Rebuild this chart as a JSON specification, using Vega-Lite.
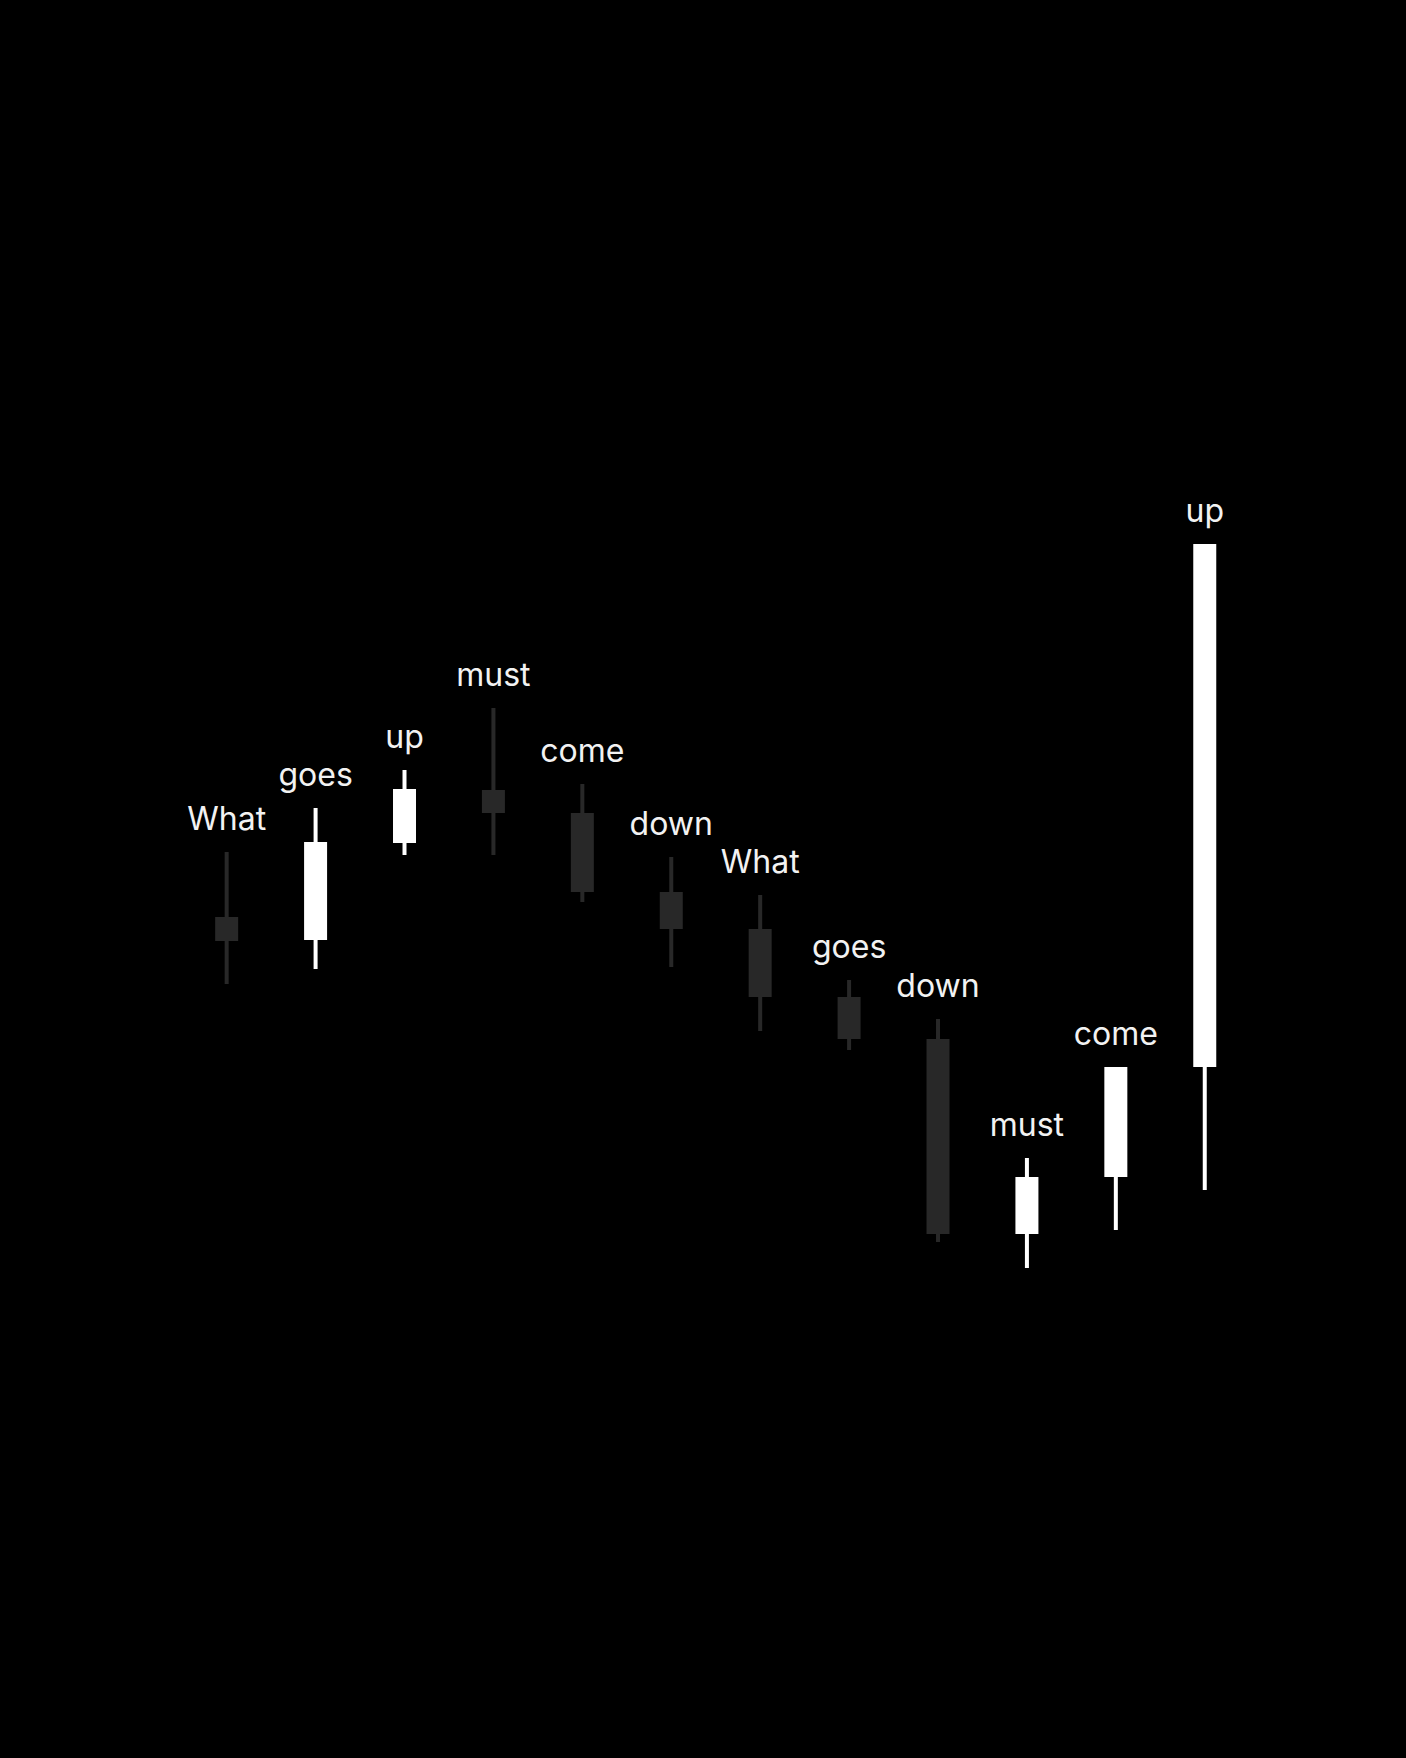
{
  "$schema": "https://vega.github.io/schema/vega-lite/v6.json",
  "width": 1406,
  "height": 1758,
  "autosize": {"type": "fit", "contains": "padding"},
  "padding": 0,
  "background": "#000000",
  "data": {
    "values": [
      {"i": 1, "word": "What", "open": 84.1, "high": 90.6, "low": 77.4, "close": 81.7},
      {"i": 2, "word": "goes", "open": 81.8, "high": 95.0, "low": 78.9, "close": 91.6},
      {"i": 3, "word": "up", "open": 91.5, "high": 98.8, "low": 90.3, "close": 96.9},
      {"i": 4, "word": "must", "open": 96.8, "high": 105.0, "low": 90.3, "close": 94.5},
      {"i": 5, "word": "come", "open": 94.5, "high": 97.4, "low": 85.6, "close": 86.6},
      {"i": 6, "word": "down", "open": 86.6, "high": 90.1, "low": 79.1, "close": 82.9},
      {"i": 7, "word": "What", "open": 82.9, "high": 86.3, "low": 72.7, "close": 76.1},
      {"i": 8, "word": "goes", "open": 76.1, "high": 77.8, "low": 70.8, "close": 71.9},
      {"i": 9, "word": "down", "open": 71.9, "high": 73.9, "low": 51.6, "close": 52.4},
      {"i": 10, "word": "must", "open": 52.4, "high": 60.0, "low": 49.0, "close": 58.1},
      {"i": 11, "word": "come", "open": 58.1, "high": 69.1, "low": 52.8, "close": 69.1},
      {"i": 12, "word": "up", "open": 69.1, "high": 121.4, "low": 56.8, "close": 121.4}
    ]
  },
  "encoding": {
    "x": {
      "field": "i", "type": "quantitative",
      "scale": {"domain": [-1.493, 14.207], "nice": false, "zero": false},
      "axis": null
    },
    "color": {
      "condition": {"test": "datum.close > datum.open", "value": "#ffffff"},
      "value": "#282828"
    }
  },
  "layer": [
    {
      "mark": {"type": "rule", "strokeWidth": 4},
      "encoding": {
        "y": {
          "field": "low", "type": "quantitative",
          "scale": {"domain": [0, 175.8], "nice": false, "zero": false},
          "axis": null
        },
        "y2": {"field": "high"}
      }
    },
    {
      "mark": {"type": "bar", "width": 23},
      "encoding": {
        "y": {"field": "open", "type": "quantitative"},
        "y2": {"field": "close"}
      }
    },
    {
      "mark": {
        "type": "text", "baseline": "alphabetic", "align": "center",
        "dy": -22, "fontSize": 32, "font": "Inter", "fontWeight": 400
      },
      "encoding": {
        "y": {"field": "high", "type": "quantitative"},
        "text": {"field": "word"},
        "color": {"value": "#f2f2f2"}
      }
    }
  ],
  "config": {
    "view": {"stroke": null}
  }
}
